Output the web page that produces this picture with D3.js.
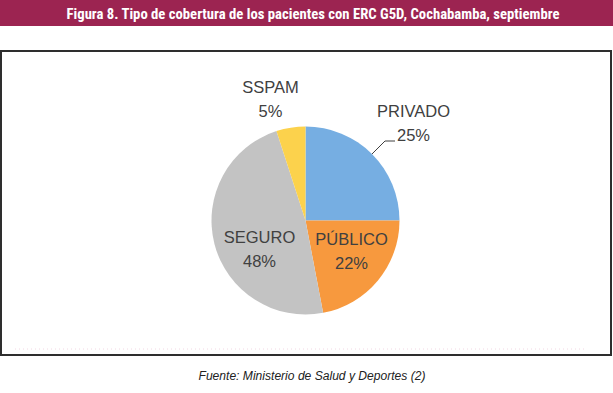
<html>
<head>
<meta charset="utf-8">
<style>
  body { margin: 0; background: #fff; }
  text { font-family: "Liberation Sans", Arial, sans-serif; }
</style>
</head>
<body>
<svg id="container" width="613" height="393"></svg>
<script src="https://cdn.jsdelivr.net/npm/d3@7"></script>
<script>
  // chart data
  let categories = ["PRIVADO", "PÚBLICO", "SEGURO", "SSPAM"]
  let shares = [25, 22, 48, 5]
  let colors = ["#76aee2", "#f7993e", "#c3c3c3", "#fcd24c"]
  let titleText = "Figura 8. Tipo de cobertura de los pacientes con ERC G5D, Cochabamba, septiembre"
  let sourceText = "Fuente: Ministerio de Salud y Deportes (2)"

  // label offsets from the pie centre (layout only)
  let labelOffsets = [[108, -100], [46, 28], [-46, 26], [-35, -124]]

  let svg = d3.select("#container")
  let width = 613
  let cx = 305.5, cy = 220.5, radius = 94

  // title bar
  svg.append("rect")
    .attr("x", 0).attr("y", 0).attr("width", width).attr("height", 26)
    .attr("fill", "#9c2451")
  svg.append("text")
    .attr("x", 313).attr("y", 18.5)
    .attr("text-anchor", "middle")
    .attr("fill", "white")
    .attr("font-weight", "bold")
    .attr("font-size", 14.7)
    .style("font-family", "'Liberation Sans Narrow', 'Roboto Condensed', 'DejaVu Sans Condensed', sans-serif")
    .text(titleText)

  // chart frame
  svg.append("rect")
    .attr("x", 1).attr("y", 51).attr("width", 610).attr("height", 304)
    .attr("fill", "white")
    .attr("stroke", "#2e2e2e")
    .attr("stroke-width", 2)
  svg.append("line")
    .attr("x1", 15).attr("x2", 585).attr("y1", 349).attr("y2", 349)
    .attr("stroke", "#f2d8e4")
    .attr("stroke-dasharray", "1,3")

  // pie
  let data = categories.map((c, i) => ({ name: c, value: shares[i], color: colors[i], off: labelOffsets[i] }))
  let pie = d3.pie().sort(null).value(d => d.value)
  let arc = d3.arc().innerRadius(0).outerRadius(radius)
  let g = svg.append("g").attr("transform", `translate(${cx},${cy})`)

  let arcs = pie(data)
  g.selectAll("path").data(arcs)
    .enter().append("path")
    .attr("d", arc)
    .attr("fill", d => d.data.color)

  // leader line for PRIVADO, from the slice edge
  let edge = d3.arc().innerRadius(radius).outerRadius(radius).centroid(arcs[0])
  g.append("polyline")
    .attr("points", [edge, [79.5, -79.5], [89.5, -79.5]].join(" "))
    .attr("fill", "none")
    .attr("stroke", "#404040")
    .attr("stroke-width", 1)

  let labels = g.selectAll("g.label").data(arcs)
    .enter().append("g")
    .attr("class", "label")
    .attr("transform", d => `translate(${d.data.off[0]},${d.data.off[1]})`)
  labels.append("text")
    .attr("text-anchor", "middle")
    .attr("y", -4)
    .attr("fill", "#404040")
    .attr("font-size", 16.5)
    .text(d => d.data.name)
  labels.append("text")
    .attr("text-anchor", "middle")
    .attr("y", 20)
    .attr("fill", "#404040")
    .attr("font-size", 16.5)
    .text(d => d.data.value + "%")

  // source
  svg.append("text")
    .attr("x", 312).attr("y", 380)
    .attr("text-anchor", "middle")
    .attr("fill", "#222")
    .attr("font-style", "italic")
    .attr("font-size", 12)
    .attr("textLength", 227)
    .attr("lengthAdjust", "spacingAndGlyphs")
    .text(sourceText)
</script>
</body>
</html>
